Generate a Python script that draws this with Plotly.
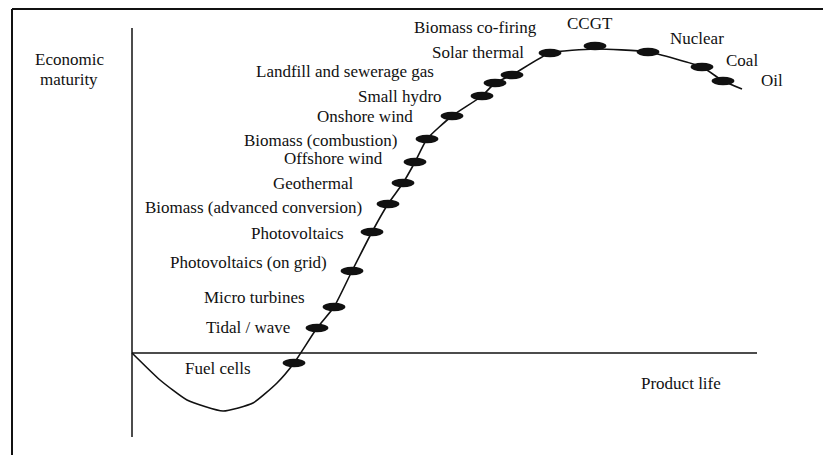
import plotly.graph_objects as go

# Technologies along the product life cycle (x = product life, y = economic maturity)
techs = ["Fuel cells", "Tidal / wave", "Micro turbines", "Photovoltaics (on grid)",
         "Photovoltaics", "Biomass (advanced conversion)", "Geothermal", "Offshore wind",
         "Biomass (combustion)", "Onshore wind", "Small hydro", "Landfill and sewerage gas",
         "Solar thermal", "Biomass co-firing", "CCGT", "Nuclear", "Coal", "Oil"]
tech_life = [162, 185, 202, 220, 240, 256, 271, 283, 295, 320, 350, 363, 380, 418, 463, 516, 570, 591]
tech_maturity = [-10, 25, 46, 82, 121, 149, 170, 191, 214, 237, 257, 270, 278, 300, 307, 301, 286, 272]

# Curve shape before the first technology and after the last one
lead_life = [0, 28, 55, 91, 121, 145]
lead_maturity = [0, -27, -47, -58, -50, -30]
tail_life = [610]
tail_maturity = [264]

# Label anchor points (same units)
label_life = [86, 116, 122, 116, 165, 121, 181, 201, 188, 233, 268, 213, 346, 343, 458, 565, 610, 640]
label_maturity = [-15, 26, 56, 91, 120, 146, 170, 195, 213, 237, 257, 282, 301, 326, 330, 315, 293, 273]

curve_x = lead_life + tech_life[:14] + [463, 516] + tech_life[16:] + tail_life
curve_y = lead_maturity + tech_maturity[:14] + [304, 301] + tech_maturity[16:] + tail_maturity

FONT = dict(family="Liberation Serif, Times New Roman, serif", size=17, color="#111")
INK = "#111"

fig = go.Figure()
fig.add_trace(go.Scatter(x=curve_x, y=curve_y, mode="lines",
                         line=dict(color=INK, width=1.6, shape="spline", smoothing=0.5),
                         hoverinfo="skip"))

shapes = []
# ellipse markers
EW, EH = 11.5, 4.2
for lx, ly in zip(tech_life, tech_maturity):
    shapes.append(dict(type="circle", xref="x", yref="y", x0=lx - EW, x1=lx + EW,
                       y0=ly - EH, y1=ly + EH, fillcolor=INK, line=dict(color=INK, width=0)))
# axes
shapes.append(dict(type="line", xref="x", yref="y", x0=0, x1=0, y0=-84, y1=325,
                   line=dict(color=INK, width=1.5)))
shapes.append(dict(type="line", xref="x", yref="y", x0=0, x1=625, y0=0, y1=0,
                   line=dict(color=INK, width=1.5)))
# frame (left and top edges)
shapes.append(dict(type="line", xref="x", yref="y", x0=-120, x1=-120, y0=-120, y1=344,
                   line=dict(color=INK, width=2)))
shapes.append(dict(type="line", xref="x", yref="y", x0=-120, x1=720, y0=344, y1=344,
                   line=dict(color=INK, width=2)))

annotations = []
for t, lx, ly in zip(techs, label_life, label_maturity):
    annotations.append(dict(x=lx, y=ly, xref="x", yref="y", text=t, showarrow=False,
                            font=FONT, xanchor="center", yanchor="middle"))
annotations.append(dict(x=-63, y=294, xref="x", yref="y", text="Economic", showarrow=False,
                        font=FONT, xanchor="center", yanchor="middle"))
annotations.append(dict(x=-63, y=274, xref="x", yref="y", text="maturity", showarrow=False,
                        font=FONT, xanchor="center", yanchor="middle"))
annotations.append(dict(x=549, y=-30, xref="x", yref="y", text="Product life", showarrow=False,
                        font=FONT, xanchor="center", yanchor="middle"))

# the page adds an 8px body margin, so the ranges are shifted by 8 units to compensate
fig.update_layout(
    width=831, height=455,
    margin=dict(l=0, r=0, t=0, b=0),
    paper_bgcolor="white", plot_bgcolor="white",
    showlegend=False,
    xaxis=dict(range=[-124, 707], visible=False, fixedrange=True),
    yaxis=dict(range=[-110, 345], visible=False, fixedrange=True),
    shapes=shapes, annotations=annotations,
)

fig.write_html("out.html")
